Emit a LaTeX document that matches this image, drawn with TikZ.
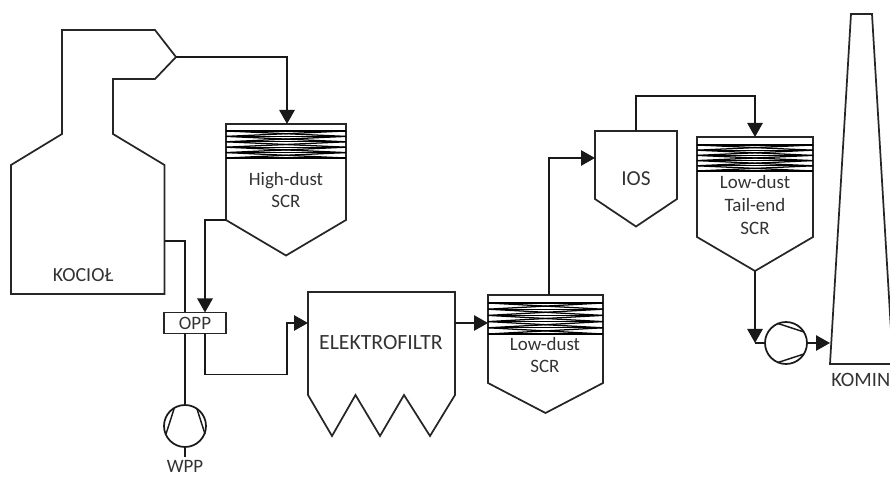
\documentclass[tikz,border=0pt]{standalone}
\usepackage{fontspec}
\setmainfont{Carlito}
\usetikzlibrary{arrows.meta,calc}
\tikzset{
  shape line/.style={draw=black!85,line width=1.3pt,line join=miter},
  flow/.style={draw=black!90,line width=1.3pt,-{Triangle[length=10.5pt,width=11.5pt]}},
  plain flow/.style={draw=black!90,line width=1.3pt},
  label text/.style={font=\fontsize{14.2}{17}\selectfont,text=black!80,align=center,inner sep=0pt},
  big text/.style={font=\fontsize{#1}{17}\selectfont,text=black!80,inner sep=0pt},
  pump/.style={circle,draw=black!90,line width=1.3pt,minimum size=31.5pt,inner sep=0pt},
  chord/.style={draw=black!90,line width=1.1pt},
  catline/.style={draw=black,line width=0.95pt},
}
\newcommand{\catpack}[4]{% left right top bottom
  \pgfmathsetmacro{\dyy}{(#4-#3)/5}
  \foreach \k in {0,...,4}{
    \draw[catline] (#1,{#3+\k*\dyy}) -- (#2,{#3+(\k+1)*\dyy});
    \draw[catline] (#1,{#3+(\k+1)*\dyy}) -- (#2,{#3+\k*\dyy});
    \draw[catline] (#1,{#3+\k*\dyy}) -- (#2,{#3+\k*\dyy});
  }
  \draw[catline,line width=1.1pt] (#1,#4) -- (#2,#4);
}
\begin{document}
\begin{tikzpicture}[x=0.75pt,y=-0.75pt]
\useasboundingbox (0,0) rectangle (890,477);
\clip (0,0) rectangle (890,477);
% Boiler
\draw[shape line] (62,30) -- (155,30) -- (176,57) coordinate (boilerOut) -- (155,79) -- (113,79) -- (113,134) -- (164.5,165) -- (164.5,241) coordinate (boilerTap) -- (164.5,294) -- (11,294) -- (11,165) -- (62,134) -- cycle;
\node[big text=15] (kociol) at (83,275) {KOCIOŁ};
% High-dust SCR
\draw[shape line] (226,124) coordinate (hdTL) -- (346,124) -- (346,220) -- (286,255.5) -- (226,220) coordinate (hdOut) -- cycle;
\coordinate (hdIn) at (287,124);
\catpack{226}{346}{131}{158}
\node[label text] (hdlabel) at (286,190) {High-dust\\SCR};
% OPP
\node[draw=black!85,line width=1.3pt,minimum width=46.5pt,minimum height=15.75pt,inner sep=0pt,font=\fontsize{14.2}{17}\selectfont,text=black!80] (opp) at (195,323) {OPP};
\coordinate (oppW) at (185,312.5);
\coordinate (oppWb) at (185,333.5);
\coordinate (oppG) at (205,312.5);
\coordinate (oppGb) at (205,333.5);
% WPP pump
\node[pump] (wpp) at (185,426) {};
\draw[chord] (174,409) -- (166,434);
\draw[chord] (197,409) -- (205,434);
\coordinate (wppStub) at (185,457);
\node[big text=14.2,anchor=base] (wpplabel) at (185,473) {WPP};
% Electrostatic precipitator
\draw[shape line] (308,292) -- (455,292) -- (455,395) -- (430,436) -- (404,395) -- (380,436) -- (355.5,395) -- (332,436) -- (308,395) -- cycle;
\coordinate (efIn) at (308,323);
\coordinate (efOut) at (455,323);
\node[big text=16.3] (eflabel) at (381,343) {ELEKTROFILTR};
% Low-dust SCR
\draw[shape line] (488,295) -- (603,295) -- (603,383) -- (545.5,413) -- (488,383) -- cycle;
\coordinate (ldIn) at (488,323);
\coordinate (ldOut) at (549,295);
\catpack{488}{603}{303}{334}
\node[label text] (ldlabel) at (545,355) {Low-dust\\SCR};
% IOS
\draw[shape line] (595,131) -- (677,131) -- (677,199) -- (636,226.5) -- (595,199) -- cycle;
\coordinate (iosIn) at (595,158);
\coordinate (iosOut) at (636,131);
\node[big text=16] (ioslabel) at (636,179) {IOS};
% Tail-end SCR
\draw[shape line] (697,137) -- (813,137) -- (813,237) -- (755,271) coordinate (teOut) -- (697,237) -- cycle;
\coordinate (teIn) at (755,137);
\catpack{697}{813}{145}{171}
\node[label text] (telabel) at (755,205) {Low-dust\\Tail-end\\SCR};
% Fan
\node[pump] (fan) at (786,343) {};
\draw[chord] (778,323.5) -- (804,332);
\draw[chord] (778,362.5) -- (804,354);
% Stack
\draw[shape line] (830,364) -- (851,14) -- (872,14) -- (893,364) -- cycle;
\coordinate (stackIn) at (830,343);
\node[big text=15.3,anchor=base west] (kominlabel) at (831,387) {KOMIN};
% Connectors
\draw[flow] (boilerOut) -| (hdIn);
\coordinate (hdTurn) at (205,220);
\draw[flow] (hdOut) -- (hdTurn) -- (oppG);
\coordinate (tapTurn) at (185,241);
\draw[plain flow] (boilerTap) -- (tapTurn) -- (oppW);
\draw[plain flow] (oppWb) -- (wpp.north);
\draw[plain flow] (wpp.south) -- (wppStub);
\coordinate (efTurn) at (287,374.5);
\draw[flow] (oppGb) |- (efTurn) |- (efIn);
\draw[flow] (efOut) -- (ldIn);
\draw[flow] (ldOut) |- (iosIn);
\coordinate (teTurn) at (755,96);
\draw[flow] (iosOut) |- (teTurn) -- (teIn);
\coordinate (teElbow) at (755,343);
\draw[flow] (teOut) -- (teElbow);
\draw[plain flow] (teElbow) -- (fan.west);
\draw[flow] (fan.east) -- (stackIn);
\end{tikzpicture}
\end{document}
